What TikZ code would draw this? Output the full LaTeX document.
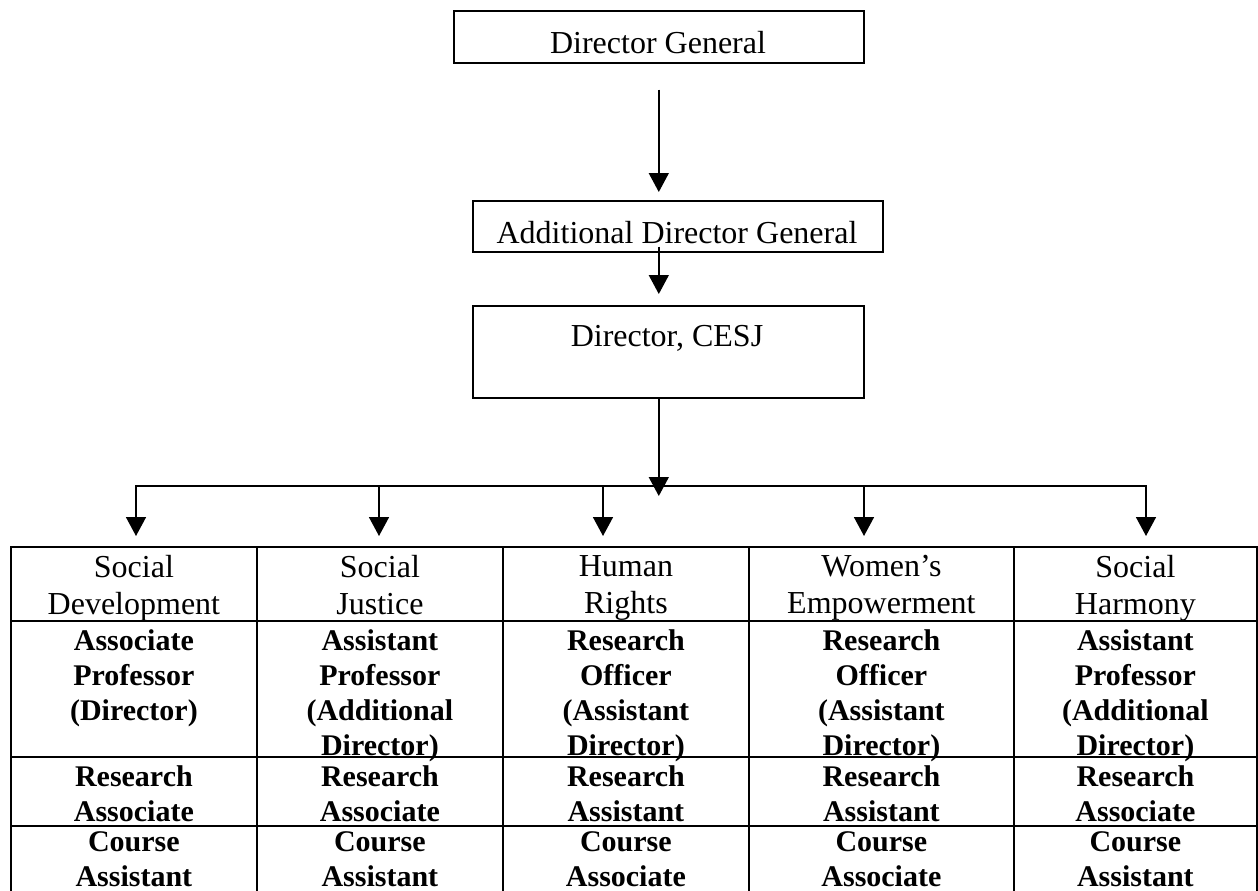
\documentclass[tikz,border=0pt]{standalone}
\usepackage{fontspec}
\setmainfont{Liberation Serif}
\usetikzlibrary{arrows.meta}
\begin{document}
\begin{tikzpicture}[x=1pt,y=-1pt,
  box/.style={draw, line width=1.6pt, inner sep=0pt, anchor=north west},
  cell/.style={draw, line width=1.8pt, inner sep=0pt, anchor=north west},
  reg/.style={font=\fontsize{32}{37}\selectfont, align=center, inner sep=0pt},
  bld/.style={font=\fontsize{30}{35}\selectfont\bfseries, align=center, inner sep=0pt},
  arr/.style={line width=1.6pt, -{Triangle[width=20pt,length=19pt]}},
  ln/.style={line width=1.6pt, line cap=rect}]
\clip (0,0) rectangle (1258,891);
\fill[white] (0,0) rectangle (1258,891);
% top boxes
\node[box, minimum width=410, minimum height=52] (DG) at (453,10) {};
\node[reg, anchor=base] (DGt) at (658,53) {Director General};
\node[box, minimum width=410, minimum height=51] (ADG) at (472,200) {};
\node[reg, anchor=base] (ADGt) at (677,243) {Additional Director General};
\node[box, minimum width=391, minimum height=92] (CESJ) at (472,305) {};
\node[reg, anchor=base] (CESJt) at (667,346) {Director, CESJ};
% bus coordinates
\coordinate (b1) at (136,486);
\coordinate (b2) at (379,486);
\coordinate (b3) at (603,486);
\coordinate (b4) at (864,486);
\coordinate (b5) at (1146,486);
% vertical arrows
\draw[arr, shorten <=26pt, shorten >=8pt] (DG.south) -- (DG.south |- ADG.north);
\draw[arr, shorten <=-6pt, shorten >=11pt] (DG.south |- ADG.south) -- (DG.south |- CESJ.north);
\coordinate (hub) at ([yshift=-10pt]DG.south |- b1);
\draw[arr] (DG.south |- CESJ.south) -- (hub);
% table cells
\foreach \i/\x/\w in {1/10/246,2/256/246,3/502/246,4/748/265,5/1013/243}{
  \node[cell, minimum width=\w, minimum height=74] (h\i) at (\x,546) {};
  \node[cell, minimum width=\w, minimum height=136] (r\i) at (\x,620) {};
  \node[cell, minimum width=\w, minimum height=69] (s\i) at (\x,756) {};
  \node[cell, minimum width=\w, minimum height=80] (t\i) at (\x,825) {};
}
% bus and branch arrows
\draw[ln] (b1) -- (b5);
\foreach \i in {1,...,5}{
  \draw[arr, shorten >=10pt] (b\i) -- (b\i |- h\i.north);
}
% header texts
\node[reg, anchor=north] (h1t) at ([yshift=-9pt]h1.north) {Social\\Development};
\node[reg, anchor=north] (h2t) at ([yshift=-9pt]h2.north) {Social\\Justice};
\node[reg, anchor=north] (h3t) at ([yshift=-9pt]h3.north) {Human\\Rights};
\node[reg, anchor=north] (h4t) at ([yshift=-9pt]h4.north) {Women’s\\Empowerment};
\node[reg, anchor=north] (h5t) at ([yshift=-9pt]h5.north) {Social\\Harmony};
% row 2
\node[bld, anchor=north] (r1t) at ([yshift=-9pt]r1.north) {Associate\\Professor\\(Director)};
\node[bld, anchor=north] (r2t) at ([yshift=-9pt]r2.north) {Assistant\\Professor\\(Additional\\Director)};
\node[bld, anchor=north] (r3t) at ([yshift=-9pt]r3.north) {Research\\Officer\\(Assistant\\Director)};
\node[bld, anchor=north] (r4t) at ([yshift=-9pt]r4.north) {Research\\Officer\\(Assistant\\Director)};
\node[bld, anchor=north] (r5t) at ([yshift=-9pt]r5.north) {Assistant\\Professor\\(Additional\\Director)};
% row 3
\node[bld, anchor=north] (s1t) at ([yshift=-9pt]s1.north) {Research\\Associate};
\node[bld, anchor=north] (s2t) at ([yshift=-9pt]s2.north) {Research\\Associate};
\node[bld, anchor=north] (s3t) at ([yshift=-9pt]s3.north) {Research\\Assistant};
\node[bld, anchor=north] (s4t) at ([yshift=-9pt]s4.north) {Research\\Assistant};
\node[bld, anchor=north] (s5t) at ([yshift=-9pt]s5.north) {Research\\Associate};
% row 4
\node[bld, anchor=north] (t1t) at ([yshift=-6pt]t1.north) {Course\\Assistant};
\node[bld, anchor=north] (t2t) at ([yshift=-6pt]t2.north) {Course\\Assistant};
\node[bld, anchor=north] (t3t) at ([yshift=-6pt]t3.north) {Course\\Associate};
\node[bld, anchor=north] (t4t) at ([yshift=-6pt]t4.north) {Course\\Associate};
\node[bld, anchor=north] (t5t) at ([yshift=-6pt]t5.north) {Course\\Assistant};
\end{tikzpicture}
\end{document}
